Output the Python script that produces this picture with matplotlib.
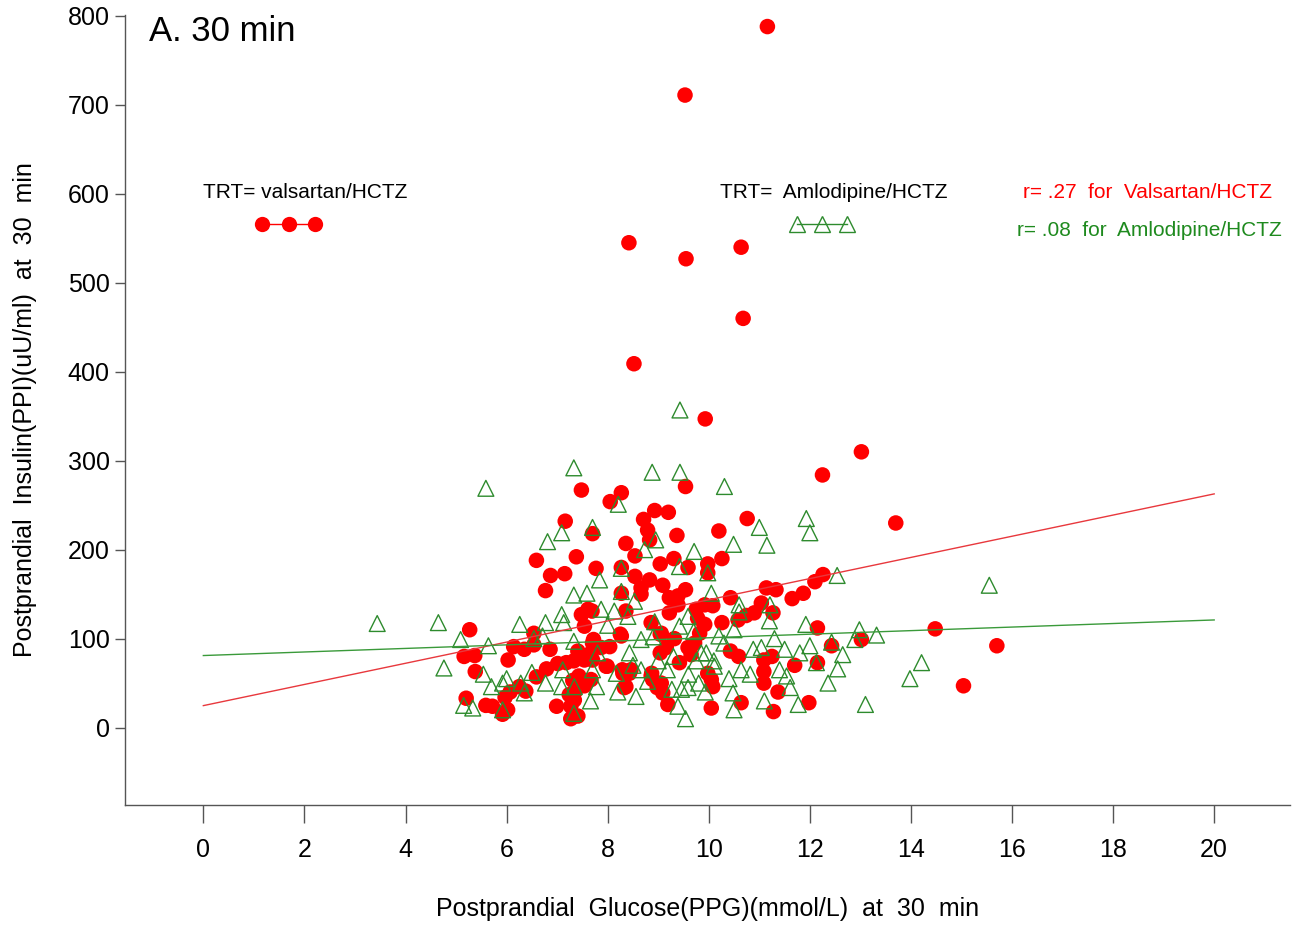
import matplotlib
matplotlib.use("Agg")
import matplotlib.pyplot as plt
import numpy as np

plt.rcParams['font.family'] = ['Liberation Sans', 'DejaVu Sans']

# ---- data: Valsartan/HCTZ (red circles) ----
val_x = [11.16, 9.53, 8.42, 9.55, 10.64, 10.68, 8.52, 9.93, 13.02, 12.25, 13.70, 9.54, 7.48, 8.27, 8.05,
         8.93, 9.20, 10.76, 8.71, 7.16, 8.79, 10.20, 7.70, 9.37, 8.83, 8.36, 6.59, 7.38, 8.54, 9.31,
         10.26, 9.04, 9.98, 9.59, 7.77, 8.27, 9.98, 6.87, 7.15, 8.54, 12.26, 8.83, 12.10, 9.09, 8.66,
         11.14, 11.33, 9.54, 6.77, 8.66, 8.27, 11.87, 9.22, 10.43, 11.65, 9.39, 11.04, 9.39, 9.92, 10.08,
         9.75, 7.61, 7.69, 8.36, 9.22, 11.27, 10.90, 7.48, 10.74, 9.78, 10.58, 10.26, 8.86, 9.92, 7.54,
         12.15, 14.48, 5.27, 6.54, 9.82, 9.06, 8.25, 9.04, 8.27, 13.02, 7.72, 9.32, 7.70, 9.72, 6.54,
         15.70, 12.43, 7.77, 8.04, 6.14, 7.87, 9.59, 9.16, 6.35, 6.86, 10.43, 7.41, 7.67, 9.04, 9.65,
         5.16, 5.37, 7.50, 10.59, 11.25, 6.03, 7.54, 11.09, 7.70, 7.33, 7.18, 9.42, 12.15, 7.01, 11.70,
         7.99, 7.97, 6.79, 8.46, 8.29, 5.38, 11.09, 8.43, 8.87, 9.98, 8.30, 7.43, 8.86, 6.59, 8.89,
         10.05, 7.67, 7.31, 9.06, 11.09, 7.54, 15.04, 6.25, 8.36, 10.08, 8.33, 8.98, 6.38, 7.36, 6.07,
         11.37, 9.09, 7.24, 5.97, 5.20, 7.34, 10.64, 11.98, 9.19, 5.59, 5.72, 6.99, 7.27, 10.05, 6.02,
         11.28, 5.92, 7.41, 7.27]
val_y = [788, 711, 545, 527, 540, 460, 409, 347, 310, 284, 230, 271, 267, 264, 254,
         244, 242, 235, 234, 232, 222, 221, 218, 216, 211, 207, 188, 192, 193, 190,
         190, 184, 184, 180, 179, 180, 174, 171, 173, 170, 172, 166, 164, 160, 157,
         157, 155, 155, 154, 150, 151, 151, 146, 146, 145, 148, 140, 138, 138, 137,
         133, 133, 131, 131, 129, 129, 129, 127, 126, 123, 121, 118, 118, 116, 114,
         112, 111, 110, 106, 106, 106, 105, 105, 103, 99, 99, 100, 95, 95, 93,
         92, 92, 91, 91, 91, 90, 90, 90, 88, 88, 86, 86, 84, 84, 82,
         80, 81, 80, 80, 80, 76, 76, 76, 76, 75, 73, 73, 73, 72, 70,
         69, 69, 66, 65, 65, 63, 63, 61, 61, 61, 61, 58, 58, 57, 54,
         54, 54, 53, 50, 50, 47, 47, 46, 46, 46, 45, 45, 41, 41, 40,
         40, 39, 37, 34, 33, 31, 28, 28, 26, 25, 24, 24, 24, 22, 20,
         18, 15, 13, 10]

# ---- data: Amlodipine/HCTZ (green triangles) ----
aml_x = [9.43, 7.33, 5.59, 8.88, 9.43, 10.31, 8.21, 11.93, 12.00, 11.00, 7.70, 7.09, 11.15, 10.49, 6.81,
         9.71, 8.95, 8.73, 9.42, 8.27, 9.98, 12.54, 7.84, 15.55, 7.59, 7.33, 8.27, 10.05, 8.53, 10.60,
         11.21, 8.13, 7.87, 7.09, 9.59, 8.93, 6.77, 7.13, 4.65, 3.44, 6.26, 11.92, 9.42, 12.98, 13.32,
         6.71, 6.54, 8.66, 12.89, 5.09, 7.33, 12.43, 5.64, 11.04, 10.88, 7.80, 8.43, 9.85, 9.95, 11.80,
         12.65, 9.75, 12.13, 14.21, 10.11, 4.76, 12.55, 7.70, 7.11, 8.66, 9.18, 10.64, 8.17, 5.54, 10.82,
         11.54, 13.98, 8.79, 5.92, 6.28, 6.77, 12.36, 5.70, 7.09, 7.34, 7.78, 9.59, 11.61, 9.27, 9.46,
         6.35, 10.48, 9.93, 8.56, 7.66, 11.77, 13.10, 5.15, 5.33, 5.92, 10.50, 7.33, 9.54, 9.39,
         9.00, 9.30, 8.50, 9.60, 10.30, 10.20, 8.00, 10.50, 11.30, 11.50, 12.00, 6.00, 6.50, 8.90,
         9.70, 10.60, 8.40, 11.20, 10.40, 11.10, 10.10, 11.40, 8.20, 9.80]
aml_y = [357, 292, 269, 287, 287, 271, 251, 235, 219, 225, 225, 219, 205, 206, 209,
         198, 211, 200, 181, 179, 174, 171, 166, 160, 151, 149, 153, 151, 142, 138,
         138, 131, 133, 127, 125, 119, 118, 118, 118, 117, 116, 116, 114, 110, 104,
         103, 100, 99, 99, 99, 97, 96, 92, 90, 88, 84, 84, 84, 84, 84,
         82, 75, 73, 73, 69, 67, 66, 65, 65, 65, 65, 65, 61, 60, 60,
         58, 55, 52, 50, 50, 50, 50, 46, 46, 46, 46, 45, 45, 43, 43,
         39, 39, 40, 35, 30, 26, 26, 25, 22, 20, 20, 16, 10, 24,
         75, 80, 70, 60, 95, 103, 115, 110, 100, 88, 92, 55, 62, 102,
         108, 130, 125, 120, 55, 30, 75, 65, 40, 50]

# regression fits (intercept, slope)
fit_names = ["Valsartan/HCTZ", "Amlodipine/HCTZ"]
fit_intercept = [24.7, 81.0]
fit_slope = [11.9, 2.0]
fit_r = [".27", ".08"]
fit_range = [0, 20]

x_ticks = list(range(0, 21, 2))
y_ticks = list(range(0, 801, 100))

RED = "#ff0000"
GREEN = "#2e8b2e"

fig = plt.figure(figsize=(13.03, 9.30), dpi=100)
ax = fig.add_axes([125/1303, 1-805/930, (1290-125)/1303, (805-15)/930])

ax.scatter(val_x, val_y, s=125, color=RED, edgecolors='none', zorder=2)
ax.scatter(aml_x, aml_y, s=130, marker='^', facecolors='none', edgecolors=GREEN, linewidths=1.0, zorder=3)

xr = np.array(fit_range, dtype=float)
ax.plot(xr, fit_intercept[0] + fit_slope[0]*xr, color="#e8383d", lw=1.0, zorder=4)
ax.plot(xr, fit_intercept[1] + fit_slope[1]*xr, color="#3a9a3a", lw=1.0, zorder=4)

ax.set_xlim(-1.55, 21.5)
ax.set_ylim(-87, 801)
ax.set_xticks(x_ticks)
ax.set_yticks(y_ticks)
ax.spines['top'].set_visible(False)
ax.spines['right'].set_visible(False)
for s in ('left', 'bottom'):
    ax.spines[s].set_color('#555555')
    ax.spines[s].set_linewidth(1.0)
ax.tick_params(axis='y', direction='out', length=7, width=1, color='#555555', labelsize=18, pad=4)
ax.tick_params(axis='x', direction='out', length=13, width=1, color='#555555', labelsize=18, pad=11)

ax.set_xlabel("Postprandial  Glucose(PPG)(mmol/L)  at  30  min", fontsize=18, labelpad=25)
ax.set_ylabel("Postprandial  Insulin(PPI)(uU/ml)  at  30  min", fontsize=18, labelpad=22)

ax.text(0.021, 1.0, "A. 30 min", transform=ax.transAxes, fontsize=25, va='top', ha='left')

# legend-like keys
ax.text((305-125)/1165, (805-192)/790, "TRT= valsartan/HCTZ", transform=ax.transAxes,
        fontsize=15, ha='center', va='center')
lx = np.array([262, 289, 315])
ax.plot((lx-125)/1165, [(805-224)/790]*3, transform=ax.transAxes, color=RED, lw=1,
        marker='o', markersize=11, markeredgewidth=0, clip_on=False)

ax.text((720-125)/1165, (805-192)/790, "TRT=  Amlodipine/HCTZ", transform=ax.transAxes,
        fontsize=15, ha='left', va='center')
gx = np.array([797, 822, 847])
ax.plot((gx-125)/1165, [(805-224)/790]*3, transform=ax.transAxes, color=GREEN, lw=1,
        marker='^', markersize=11, markerfacecolor='none', markeredgecolor=GREEN, clip_on=False)

ax.text((1272-125)/1165, (805-192)/790, "r= %s  for  %s" % (fit_r[0], fit_names[0]),
        transform=ax.transAxes, fontsize=15, ha='right', va='center', color=RED)
ax.text((1282-125)/1165, (805-230)/790, "r= %s  for  %s" % (fit_r[1], fit_names[1]),
        transform=ax.transAxes, fontsize=15, ha='right', va='center', color="#1e8a1e")

fig.savefig("out.png", dpi=100)
